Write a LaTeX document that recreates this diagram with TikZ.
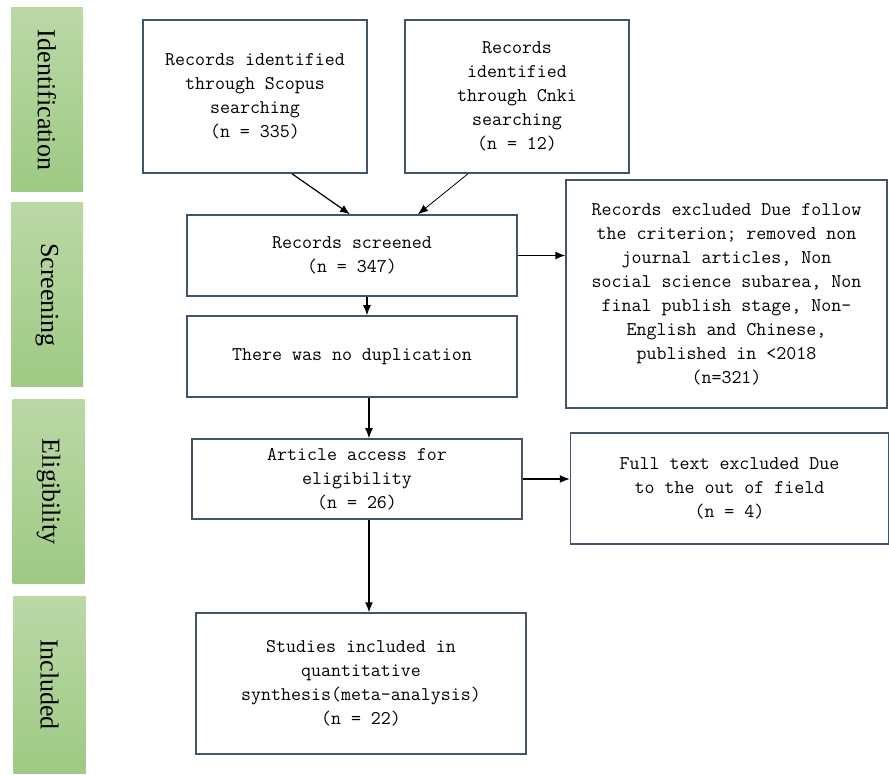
\documentclass[tikz,border=0pt]{standalone}
\usepackage{fontspec}
\setmainfont{Liberation Serif}
\usepackage{tikz}
\usetikzlibrary{arrows,arrows.meta,shapes,positioning}
\definecolor{boxline}{RGB}{66,84,108}
\definecolor{barlight}{RGB}{187,216,166}
\definecolor{bardark}{RGB}{158,202,132}
\tikzstyle{arrow}=[draw,-{Latex[length=10pt,width=8pt]},black,line width=1.2pt]
\tikzstyle{block} =
  [rectangle, draw=boxline, line width=1.5pt, align=center,
   text centered, inner sep=2pt, font=\ttfamily\fontsize{19.4}{24}\selectfont]
\tikzstyle{phase} =
  [rectangle, top color=barlight, bottom color=bardark,
   minimum width=72pt, minimum height=184pt, font=\fontsize{26}{30}\selectfont]

\begin{document}
\begin{tikzpicture}
  \useasboundingbox (0,0) rectangle (889pt,-775pt);

  % phases on the left
  \node [phase] (ident) at (47pt,-100pt) {\rotatebox{-90}{Identification}};
  \node [phase, below of=ident, node distance=195pt] (screen) {\rotatebox{-90}{Screening}};
  \node [phase, below of=screen, node distance=196.5pt, xshift=1.5pt] (elig) {\rotatebox{-90}{Eligibility}};
  \node [phase, below of=elig, node distance=193pt, xshift=1pt, minimum height=177pt] (incl) {\rotatebox{-90}{Included}};

  % flow boxes
  \node [block, minimum width=224pt, minimum height=153pt] (scopus) at (255pt,-96.5pt)
    {Records identified\\through Scopus\\searching\\(n = 335)};
  \node [block, right of=scopus, node distance=262pt, minimum width=224pt, minimum height=153pt] (cnki)
    {Records\\identified\\through Cnki\\searching\\(n = 12)};
  \node [block, below of=scopus, node distance=159pt, xshift=97pt, minimum width=330pt, minimum height=81pt] (screened)
    {Records screened\\(n = 347)};
  \node [block, below of=screened, node distance=101pt, minimum width=330pt, minimum height=81pt] (dup)
    {There was no duplication};
  \node [block, right of=screened, node distance=374.5pt, yshift=-38.5pt, minimum width=321pt, minimum height=228pt] (excluded)
    {Records excluded Due follow\\the criterion; removed non\\journal articles, Non\\social science subarea, Non\\final publish stage, Non-\\English and Chinese,\\published in \textless2018\\(n=321)};
  \node [block, below of=dup, node distance=122.5pt, xshift=5pt, minimum width=330pt, minimum height=80pt] (access)
    {Article access for\\eligibility\\(n = 26)};
  \node [block, right of=access, node distance=372.5pt, yshift=-9.5pt, minimum width=318pt, minimum height=111pt] (fulltext)
    {Full text excluded Due\\to the out of field\\(n = 4)};
  \node [block, below of=access, node distance=204.5pt, xshift=4pt, minimum width=330pt, minimum height=141pt] (studies)
    {Studies included in\\quantitative\\synthesis(meta-analysis)\\(n = 22)};

  \draw [arrow] ([xshift=37pt]scopus.south) to ([xshift=-2pt]screened.north);
  \draw [arrow, line width=0.8pt] ([xshift=-49pt]cnki.south) to ([xshift=66pt]screened.north);
  \draw [arrow] (screened.east) to (screened.east -| excluded.west);
  \draw [arrow] ([xshift=15pt]screened.south) to ([xshift=15pt]screened.south |- dup.north);
  \draw [arrow] ([xshift=17pt]dup.south) to ([xshift=17pt]dup.south |- access.north);
  \draw [arrow] (access.east) to (access.east -| fulltext.west);
  \draw [arrow] ([xshift=12pt]access.south) to ([xshift=12pt]access.south |- studies.north);
\end{tikzpicture}
\end{document}
